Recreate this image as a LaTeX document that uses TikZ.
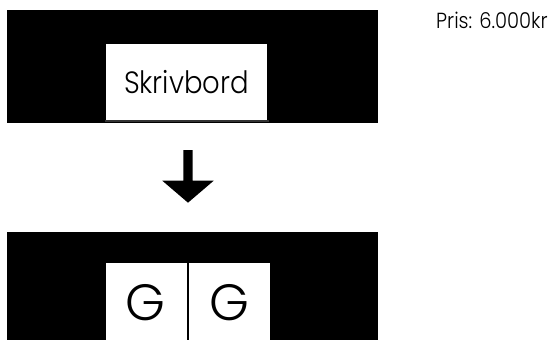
\documentclass[tikz,border=0pt]{standalone}
\usepackage{fontspec}
\setmainfont{Poppins}[UprightFont=* Light]
\begin{document}
\begin{tikzpicture}[x=1pt,y=-1pt,
  bar/.style={fill=black,inner sep=0pt,outer sep=0pt,anchor=north west},
  card/.style={fill=white,inner sep=0pt,outer sep=0pt,anchor=north west},
  lbl/.style={inner sep=0pt,anchor=base,text=black}]
\useasboundingbox (0,0) rectangle (558,340);
\clip (0,0) rectangle (558,340);
% top bar
\node[bar,minimum width=371pt,minimum height=112.7pt] (topbar) at (6.7,10) {};
\node[card,minimum width=161.3pt,minimum height=76.3pt] (topcard) at (106,43.7) {};
\draw[line width=2pt,black!80] (104.7,121) -- (268.7,121);
\node[lbl,font=\fontsize{27.5}{30}\selectfont] (sk) at (186.5,93.3) {\scalebox{1}[1.12]{Skrivbord}};
% bottom bar
\node[bar,minimum width=371pt,minimum height=120pt] (botbar) at (6.7,232.3) {};
\node[card,minimum width=80.7pt,minimum height=90pt] (gl) at (106,262.7) {};
\node[card,minimum width=80.7pt,minimum height=90pt] (gr) at (189,262.7) {};
\node[lbl,font=\fontsize{51}{54}\selectfont] (g1) at (145,320.5) {G};
\node[lbl,font=\fontsize{51}{54}\selectfont] (g2) at (229.2,320.5) {G};
% arrow
\coordinate (as) at (188,150);
\coordinate (ae) at (188,202.7);
\fill[black] ([xshift=-4.7pt]as) -- ([xshift=4.7pt]as) -- ([xshift=4.7pt,yshift=22pt]ae)
  -- ([xshift=25.7pt,yshift=22pt]ae) -- (ae) -- ([xshift=-25.7pt,yshift=22pt]ae)
  -- ([xshift=-4.7pt,yshift=22pt]ae) -- cycle;
% price
\node[inner sep=0pt,anchor=base west,font=\fontsize{19.5}{22}\selectfont] (pris) at (436,28.3) {\scalebox{1}[1.12]{Pris: 6.000kr}};
\end{tikzpicture}
\end{document}
